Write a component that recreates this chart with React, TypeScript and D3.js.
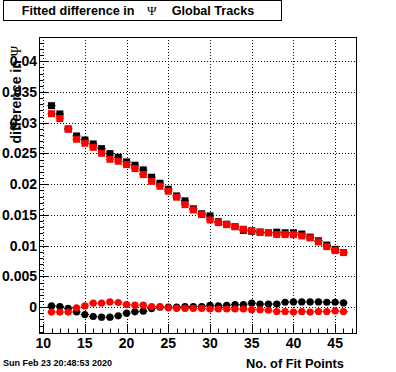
import React from 'react';
import * as d3 from 'd3';

// fit points (bin centres)
const nFit = d3.range(11, 47);

// upper pair: black squares and red squares
const sqBlack = [
  0.03278, 0.03143, 0.0290, 0.02785, 0.0272, 0.02655, 0.02579, 0.02498, 0.02439, 0.02363,
  0.02309, 0.02233, 0.02114, 0.02016, 0.01919, 0.0181, 0.01730, 0.0160, 0.0152, 0.01485,
  0.0139, 0.0135, 0.0131, 0.01250, 0.01235, 0.0122, 0.0121, 0.0122, 0.0121, 0.0121,
  0.0119, 0.0114, 0.0108, 0.0101, 0.0094, 0.0089,
];
const sqRed = [
  0.03148, 0.03067, 0.02894, 0.02732, 0.02667, 0.0260, 0.02504, 0.02406, 0.02374, 0.02319,
  0.02254, 0.02157, 0.02049, 0.01967, 0.01886, 0.01789, 0.01668, 0.01582, 0.01506, 0.0142,
  0.01376, 0.01343, 0.01311, 0.01268, 0.01246, 0.01224, 0.01213, 0.01181, 0.01181, 0.0118,
  0.01159, 0.01127, 0.01062, 0.00985, 0.0092, 0.00888,
];

// lower pair: black circles and red circles
const ciBlack = [
  0.0002, 0.0001, -0.0002, -0.00077, -0.0012, -0.00152, -0.00163, -0.00163, -0.00141, -0.00098,
  -0.00076, -0.00065, -0.00022, 0.0, 0.0, 0.0, 0.0001, 0.0001, 0.0001, 0.0003,
  0.0002, 0.0003, 0.0004, 0.0004, 0.00065, 0.0005, 0.0005, 0.0005, 0.0008, 0.00086,
  0.00086, 0.00086, 0.00086, 0.0008, 0.0008, 0.0007,
];
const ciRed = [
  -0.0008, -0.0008, -0.0008, -0.0001, 0.0002, 0.00065, 0.00065, 0.00086, 0.00076, 0.00043,
  0.00032, 0.00032, 0.0001, 0.0001, -0.0001, -0.0002, -0.0002, -0.0002, -0.0002, -0.0003,
  -0.0003, -0.0003, -0.0003, -0.0003, -0.0004, -0.0004, -0.0005, -0.0007, -0.0007, -0.0008,
  -0.0007, -0.0008, -0.0007, -0.0007, -0.0006, -0.0007,
];

const xTicks = [10, 15, 20, 25, 30, 35, 40, 45];
const yTicks = [0, 0.005, 0.01, 0.015, 0.02, 0.025, 0.03, 0.035, 0.04];
const yTickLabels = ['0', '0.005', '0.01', '0.015', '0.02', '0.025', '0.03', '0.035', '0.04'];

const W = 396;
const H = 372;
const frame = { left: 39, right: 356, top: 37, bottom: 333 };
const font = "'Liberation Sans', Arial, Helvetica, sans-serif";
const serif = "'Liberation Serif', 'DejaVu Serif', serif";

export default function App() {
  const x = d3.scaleLinear().domain([9.5, 47.5]).range([frame.left, frame.right]);
  const y = d3.scaleLinear().domain([-0.0042, 0.04395]).range([frame.bottom, frame.top]);

  const xMinor = d3.range(10, 48);
  const yMinor = d3.range(-4, 44).map((i) => i * 0.001);
  const half = (x(1) - x(0)) / 2;

  const bars = (vals: number[], color: string) =>
    vals.map((v, i) => (
      <line key={'b' + i} x1={x(nFit[i]) - half} x2={x(nFit[i]) + half} y1={y(v)} y2={y(v)} stroke={color} strokeWidth={1} />
    ));

  return (
    <svg width={W} height={H} style={{ position: 'absolute', left: 0, top: 0, background: '#fff' }}>
      <rect x={0} y={0} width={W} height={H} fill="#fff" />
      {/* grid */}
      <g stroke="#000" strokeWidth={1} strokeDasharray="1,2">
        {xTicks.map((t) => (
          <line key={'gx' + t} x1={Math.round(x(t)) + 0.5} x2={Math.round(x(t)) + 0.5} y1={frame.top} y2={frame.bottom} />
        ))}
        {yTicks.map((t) => (
          <line key={'gy' + t} x1={frame.left} x2={frame.right} y1={Math.round(y(t)) + 0.5} y2={Math.round(y(t)) + 0.5} />
        ))}
      </g>
      {/* ticks */}
      <g stroke="#000" strokeWidth={1}>
        {xMinor.map((t) => {
          const len = t % 5 === 0 ? 9 : 4.5;
          const px = Math.round(x(t)) + 0.5;
          return <line key={'tx' + t} x1={px} x2={px} y1={frame.bottom} y2={frame.bottom - len} />;
        })}
        {yMinor.map((t, i) => {
          const len = Math.abs(Math.round(t * 1000)) % 5 === 0 ? 9 : 4.5;
          const py = Math.round(y(t)) + 0.5;
          return <line key={'ty' + i} x1={frame.left} x2={frame.left + len} y1={py} y2={py} />;
        })}
      </g>
      {/* frame */}
      <rect x={frame.left + 0.5} y={frame.top + 0.5} width={frame.right - frame.left} height={frame.bottom - frame.top} fill="none" stroke="#000" strokeWidth={1} />

      {/* series */}
      {bars(sqBlack, '#000')}
      {sqBlack.map((v, i) => (
        <rect key={'sb' + i} x={x(nFit[i]) - 3.5} y={y(v) - 3.5} width={7} height={7} fill="#000" />
      ))}
      {bars(sqRed, '#ff0000')}
      {sqRed.map((v, i) => (
        <rect key={'sr' + i} x={x(nFit[i]) - 3.5} y={y(v) - 3.5} width={7} height={7} fill="#ff0000" />
      ))}
      {bars(ciBlack, '#000')}
      {ciBlack.map((v, i) => (
        <circle key={'cb' + i} cx={x(nFit[i])} cy={y(v)} r={3.6} fill="#000" />
      ))}
      {bars(ciRed, '#ff0000')}
      {ciRed.map((v, i) => (
        <circle key={'cr' + i} cx={x(nFit[i])} cy={y(v)} r={3.6} fill="#ff0000" />
      ))}

      {/* tick labels */}
      <g fontFamily={font} fontWeight="bold" fontSize={14} fill="#000">
        {xTicks.map((t) => (
          <text key={'lx' + t} x={x(t)} y={348} textAnchor="middle">{t}</text>
        ))}
        {yTicks.map((t, i) => (
          <text key={'ly' + t} x={37} y={y(t) + 5} textAnchor="end">{yTickLabels[i]}</text>
        ))}
      </g>

      {/* axis titles */}
      <text x={344} y={368} textAnchor="end" fontFamily={font} fontWeight="bold" fontSize={12.8}>No. of Fit Points</text>
      <text transform="translate(21,46) rotate(-90)" textAnchor="end" fontFamily={font} fontWeight="bold" fontSize={14}>
        difference in <tspan fontFamily={serif} fontWeight="normal">Ψ</tspan>
      </text>

      {/* title box */}
      <rect x={3.5} y={0.5} width={278} height={20} fill="#fff" stroke="#000" strokeWidth={1} />
      <text y={15} fontFamily={font} fontWeight="bold" fontSize={12.6}>
        <tspan x={21.7}>Fitted difference in</tspan>
        <tspan x={147} fontFamily={serif} fontWeight="normal" fontSize={13}>Ψ</tspan>
        <tspan x={171.7}>Global Tracks</tspan>
      </text>

      {/* date stamp */}
      <text x={3} y={366} fontFamily={font} fontWeight="bold" fontSize={9}>Sun Feb 23 20:48:53 2020</text>
    </svg>
  );
}
